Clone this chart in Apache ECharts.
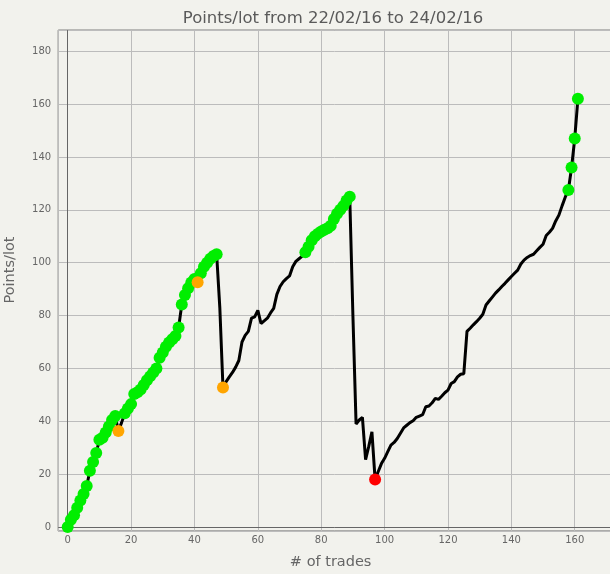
<!DOCTYPE html>
<html>
<head>
<meta charset="utf-8">
<script src="https://cdn.jsdelivr.net/npm/echarts@6/dist/echarts.min.js"></script>
<style>
html,body{margin:0;padding:0;background:#f2f2ed;}
#chart{width:610px;height:574px;}
</style>
</head>
<body>
<div id="chart"></div>
<script>
// Cumulative points/lot after each trade (index = trade number)
const pointsPerLot = [
  0, 2.8, 4.5, 7.3, 10, 12.5, 15.5, 21.3, 24.6, 28,
  33, 33.8, 35.8, 38, 40.5, 42, 36.3, 39.5, 43, 44.8,
  46.5, 50.3, 51, 52, 53.7, 55.5, 57, 58.5, 60, 64,
  66, 68.2, 69.8, 71, 72.3, 75.5, 84.2, 87.8, 90.3, 92.5,
  93.8, 92.6, 96, 98.5, 100, 101.5, 102.5, 103.2, 83, 52.8,
  55, 56.8, 58.5, 60.5, 63, 70, 72.5, 74, 79, 79.5,
  82, 77, 78, 79, 81, 82.7, 88, 91, 92.8, 94,
  95, 98.5, 100.5, 101.5, 102.5, 104, 106, 108.5, 110, 111,
  111.8, 112.5, 113, 114, 116.5, 118.5, 120, 121.5, 123.5, 125,
  80, 39, 40.5, 41.5, 25.5, 30.5, 36, 18, 21, 24,
  26, 28.5, 31, 32, 33.5, 35.5, 37.5, 38.5, 39.5, 40.2,
  41.5, 42, 42.5, 45.5, 45.8, 47, 48.7, 48.3, 49.5, 50.8,
  51.8, 54.3, 55, 56.8, 57.8, 58, 74, 75.2, 76.5, 77.7,
  79, 80.5, 84, 85.5, 87, 88.5, 89.7, 91, 92.2, 93.5,
  94.8, 96, 97.2, 99.5, 101, 102, 102.7, 103.2, 104.5, 105.8,
  107, 110.3, 111.5, 113, 115.8, 118, 121.5, 124.8, 127.5, 136,
  147, 162
];
// Trades marked with coloured dots
const greenTrades = [0,1,2,3,4,5,6,7,8,9,10,11,12,13,14,15,
  18,19,20,21,22,23,24,25,26,27,28,29,30,31,32,33,34,35,36,37,38,39,40,
  42,43,44,45,46,47,
  75,76,77,78,79,80,81,82,83,84,85,86,87,88,89,
  158,159,160,161];
const orangeTrades = [16, 41, 49];
const redTrades = [97];
// Tick labels
const xTicks = [0,20,40,60,80,100,120,140,160];
const yTicks = [0,20,40,60,80,100,120,140,160,180];

const lineData = pointsPerLot.map((v, i) => [i, v]);
const pick = idx => idx.map(i => [i, pointsPerLot[i]]);

const font = 'DejaVu Sans';
const chart = echarts.init(document.getElementById('chart'), null, {renderer: 'canvas'});
chart.setOption({
  backgroundColor: '#f2f2ed',
  animation: false,
  title: {
    text: 'Points/lot from 22/02/16 to 24/02/16',
    left: 328, top: 5, textAlign: 'center',
    textStyle: {fontFamily: font, fontSize: 16.5, fontWeight: 'normal', color: '#5a5a5a'}
  },
  grid: {
    left: 58.2, top: 30.1, width: 560.9, height: 500.9,
    show: true, borderColor: '#666', borderWidth: 1, backgroundColor: 'transparent',
    containLabel: false, outerBoundsMode: 'none'
  },
  xAxis: {
    type: 'value', min: -3, max: 174, splitNumber: 9,
    axisLine: {show: false}, axisTick: {show: false},
    splitLine: {show: true, lineStyle: {color: '#bcbcbc', width: 1}},
    axisLabel: {
      margin: 4, color: '#666', fontSize: 10, fontFamily: font,
      formatter: v => xTicks.indexOf(v) >= 0 ? String(v) : ''
    },
    name: '# of trades', nameLocation: 'middle', nameGap: 24,
    nameTextStyle: {fontFamily: font, fontSize: 14.5, color: '#666', padding: [0, 16, 0, 0]}
  },
  yAxis: {
    type: 'value', min: -1.5, max: 188, splitNumber: 9,
    axisLine: {show: false}, axisTick: {show: false},
    splitLine: {show: true, lineStyle: {color: '#bcbcbc', width: 1}},
    axisLabel: {
      margin: 7, color: '#666', fontSize: 10, fontFamily: font,
      formatter: v => yTicks.indexOf(v) >= 0 ? String(v) : ''
    },
    name: 'Points/lot', nameLocation: 'middle', nameGap: 40,
    nameTextStyle: {fontFamily: font, fontSize: 14.5, color: '#666', padding: [0, 0, 0, 21]}
  },
  series: [
    {
      type: 'line', data: lineData, showSymbol: false, symbol: 'none',
      lineStyle: {color: '#000', width: 3}, z: 2, silent: true,
      markLine: {
        silent: true, symbol: 'none', label: {show: false},
        lineStyle: {color: '#666', width: 1, type: 'solid'},
        data: [{xAxis: 0}, {yAxis: 0}], z: 1
      }
    },
    {type: 'scatter', data: pick(greenTrades), symbolSize: 12, itemStyle: {color: '#00ee00', opacity: 1}, z: 3},
    {type: 'scatter', data: pick(orangeTrades), symbolSize: 12, itemStyle: {color: '#ffa500', opacity: 1}, z: 4},
    {type: 'scatter', data: pick(redTrades), symbolSize: 12, itemStyle: {color: '#ff0000', opacity: 1}, z: 5}
  ]
});
</script>
</body>
</html>
